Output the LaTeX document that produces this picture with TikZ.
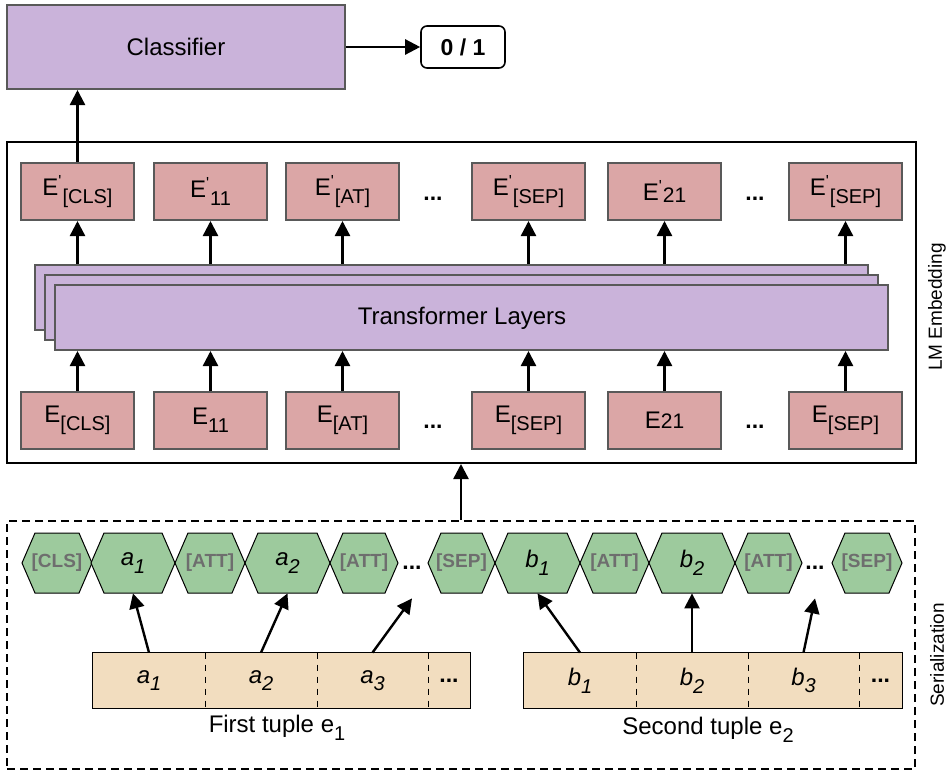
\documentclass[tikz,border=0pt]{standalone}
\usepackage{fontspec}
\setmainfont{Liberation Sans}
\usetikzlibrary{arrows.meta}
\definecolor{edgegray}{HTML}{595959}
\definecolor{lmpurple}{HTML}{CAB3DA}
\definecolor{embpink}{HTML}{DBA6A6}
\definecolor{hexgreen}{HTML}{9DCA9D}
\definecolor{tuplefill}{HTML}{F2DDBF}
\definecolor{tokgray}{HTML}{6E6E6E}
\def\hexa(#1:#2){\draw[hexline] ({#1-#2},563) -- ({#1-#2+13},533) -- ({#1+#2-13},533) -- ({#1+#2},563) -- ({#1+#2-13},593) -- ({#1-#2+13},593) -- cycle;}
\newcommand{\lowsub}[1]{\raisebox{-0.6ex}{\fontsize{10}{11}\selectfont #1}}
\newcommand{\pr}{\textsuperscript{\textquotesingle}}

\begin{document}
\begin{tikzpicture}[x=0.5pt,y=-0.5pt,font=\fontsize{12}{14}\selectfont,
	embbox/.style={draw=edgegray,line width=1pt,fill=embpink,minimum width=56.5pt,minimum height=28.5pt,inner sep=0pt},
	purplebox/.style={draw=edgegray,line width=1pt,fill=lmpurple,inner sep=0pt},
	arr/.style={line width=1.2pt,-{Triangle[length=7.5pt,width=7.5pt]}},
	hexline/.style={draw=black,line width=0.5pt,fill=hexgreen},
	hexlbl/.style={minimum height=30pt,inner sep=0pt},
	toklbl/.style={hexlbl,text=tokgray,font=\fontsize{9.5}{11}\selectfont\bfseries},
	cell/.style={fill=tuplefill,minimum height=27.5pt,inner sep=0pt},
	dots/.style={inner sep=0pt,font=\fontsize{11.5}{14}\selectfont\bfseries},
	sidelbl/.style={rotate=90,font=\fontsize{9.5}{11}\selectfont}]
	%%%%% START %%%%%
	
	\useasboundingbox (0,0) rectangle (949,771);
	
	% classifier
	\node[purplebox,minimum width=169pt,minimum height=42pt] (clf) at (176,47) {Classifier};
	\node[draw,line width=0.8pt,rounded corners=3pt,fill=white,minimum width=42pt,minimum height=21pt,font=\fontsize{11.5}{14}\selectfont\bfseries] (out) at (463,47) {0 / 1};
	\draw[arr] (clf) -- (out);
	
	% LM embedding
	\node[draw,line width=1pt,minimum width=454.5pt,minimum height=160.5pt] (lm) at (461.5,302.5) {};
	\node[sidelbl] (lmlbl) at (937,307) {LM Embedding};
	
	\node[purplebox,minimum width=416.5pt,minimum height=32.5pt] (tlback) at (451.5,297.5) {};
	\node[purplebox,minimum width=416.5pt,minimum height=32.5pt] (tlmid) at (461.5,307.5) {};
	\node[purplebox,minimum width=416.5pt,minimum height=32.5pt] (tlfront) at (471.5,317.5) {};
	\node (tltext) at (462,318) {Transformer Layers};
	
	\node[embbox] (ocls) at (77.5,191.5) {E\pr\lowsub{[CLS]}};
	\node[embbox] (o11) at (210.5,191.5) {E\pr\lowsub{11}};
	\node[embbox] (oat) at (342.5,191.5) {E\pr\lowsub{[AT]}};
	\node[dots] (odots1) at (433,199) {...};
	\node[embbox] (osep) at (528.5,191.5) {E\pr\lowsub{[SEP]}};
	\node[embbox] (o21) at (664.5,191.5) {E\pr\raisebox{-0.2ex}{\fontsize{10.5}{11}\selectfont 21}};
	\node[dots] (odots2) at (755,199) {...};
	\node[embbox] (osepb) at (845.5,191.5) {E\pr\lowsub{[SEP]}};
	
	\node[embbox] (icls) at (77.5,420.5) {E\lowsub{[CLS]}};
	\node[embbox] (i11) at (210.5,420.5) {E\lowsub{11}};
	\node[embbox] (iat) at (342.5,420.5) {E\lowsub{[AT]}};
	\node[dots] (idots1) at (433,427) {...};
	\node[embbox] (isep) at (528.5,420.5) {E\lowsub{[SEP]}};
	\node[embbox] (i21) at (664.5,420.5) {E{\fontsize{10.5}{11}\selectfont 21}};
	\node[dots] (idots2) at (755,427) {...};
	\node[embbox] (isepb) at (845.5,420.5) {E\lowsub{[SEP]}};
	
	\draw[arr] (icls) -- (icls |- tlfront.south);
	\draw[arr] (i11) -- (i11 |- tlfront.south);
	\draw[arr] (iat) -- (iat |- tlfront.south);
	\draw[arr] (isep) -- (isep |- tlfront.south);
	\draw[arr] (i21) -- (i21 |- tlfront.south);
	\draw[arr] (isepb) -- (isepb |- tlfront.south);
	
	\draw[arr] (ocls |- tlback.north) -- (ocls.south);
	\draw[arr] (o11 |- tlback.north) -- (o11.south);
	\draw[arr] (oat |- tlback.north) -- (oat.south);
	\draw[arr] (osep |- tlback.north) -- (osep.south);
	\draw[arr] (o21 |- tlback.north) -- (o21.south);
	\draw[arr] (osepb |- tlback.north) -- (osepb.south);
	
	\draw[arr] (ocls) -- (ocls |- clf.south);
	
	% serialization
	\node[draw,line width=1pt,dash pattern=on 4pt off 2.5pt,minimum width=454pt,minimum height=124pt] (ser) at (461,645) {};
	\node[sidelbl] (serlbl) at (937,655) {Serialization};
	\draw[arr] (ser.north) -- (ser.north |- lm.south);
	
	\hexa(57:35)
	\hexa(133:42)
	\hexa(210:35)
	\hexa(287.5:42.5)
	\hexa(364:34)
	\hexa(461.5:33.5)
	\hexa(537.5:42.5)
	\hexa(614.5:34.5)
	\hexa(692:43)
	\hexa(768.5:33.5)
	\hexa(867:35)
	
	\node[toklbl] (hcls) at (57,563) {[CLS]};
	\node[hexlbl] (ha1) at (133,563) {\textit{a}\lowsub{\textit{1}}};
	\node[toklbl] (hatt1) at (210,563) {[ATT]};
	\node[hexlbl] (ha2) at (287.5,563) {\textit{a}\lowsub{\textit{2}}};
	\node[toklbl] (hatt2) at (364,563) {[ATT]};
	\node[dots,minimum height=30pt] (sdots1) at (412,568) {...};
	\node[toklbl] (hsep) at (461.5,563) {[SEP]};
	\node[hexlbl] (hb1) at (537.5,563) {\textit{b}\lowsub{\textit{1}}};
	\node[toklbl] (hatt3) at (614.5,563) {[ATT]};
	\node[hexlbl] (hb2) at (692,563) {\textit{b}\lowsub{\textit{2}}};
	\node[toklbl] (hatt4) at (768.5,563) {[ATT]};
	\node[dots,minimum height=30pt] (sdots2) at (815,568) {...};
	\node[toklbl] (hsepb) at (867,563) {[SEP]};
	
	% first tuple
	\node[cell,minimum width=56pt] (ta1) at (149,680.5) {\textit{a}\lowsub{\textit{1}}};
	\node[cell,minimum width=56pt] (ta2) at (261,680.5) {\textit{a}\lowsub{\textit{2}}};
	\node[cell,minimum width=55.5pt] (ta3) at (372.5,680.5) {\textit{a}\lowsub{\textit{3}}};
	\node[cell,minimum width=21pt,font=\fontsize{11.5}{14}\selectfont\bfseries] (tadots) at (449,680.5) {...};
	\draw[line width=0.6pt] (ta1.north west) rectangle (tadots.south east);
	\draw[dashed,line width=0.5pt] (ta1.north east) -- (ta1.south east);
	\draw[dashed,line width=0.5pt] (ta2.north east) -- (ta2.south east);
	\draw[dashed,line width=0.5pt] (ta3.north east) -- (ta3.south east);
	\node (capa) at (277,728) {First tuple e\lowsub{1}};
	
	% second tuple
	\node[cell,minimum width=56pt] (tb1) at (580,680.5) {\textit{b}\lowsub{\textit{1}}};
	\node[cell,minimum width=56pt] (tb2) at (692,680.5) {\textit{b}\lowsub{\textit{2}}};
	\node[cell,minimum width=55.5pt] (tb3) at (803.5,680.5) {\textit{b}\lowsub{\textit{3}}};
	\node[cell,minimum width=21.5pt,font=\fontsize{11.5}{14}\selectfont\bfseries] (tbdots) at (880.5,680.5) {...};
	\draw[line width=0.6pt] (tb1.north west) rectangle (tbdots.south east);
	\draw[dashed,line width=0.5pt] (tb1.north east) -- (tb1.south east);
	\draw[dashed,line width=0.5pt] (tb2.north east) -- (tb2.south east);
	\draw[dashed,line width=0.5pt] (tb3.north east) -- (tb3.south east);
	\node (capb) at (708,730) {Second tuple e\lowsub{2}};
	
	\draw[arr] (ta1.north) -- (ha1.south);
	\draw[arr] (ta2.north) -- (ha2.south);
	\draw[arr] (ta3.north) -- (sdots1.south);
	\draw[arr] (tb1.north) -- (hb1.south);
	\draw[arr] (tb2.north) -- (hb2.south);
	\draw[arr] (tb3.north) -- (sdots2.south);
	
	%%%%% END %%%%%
\end{tikzpicture}
\end{document}
